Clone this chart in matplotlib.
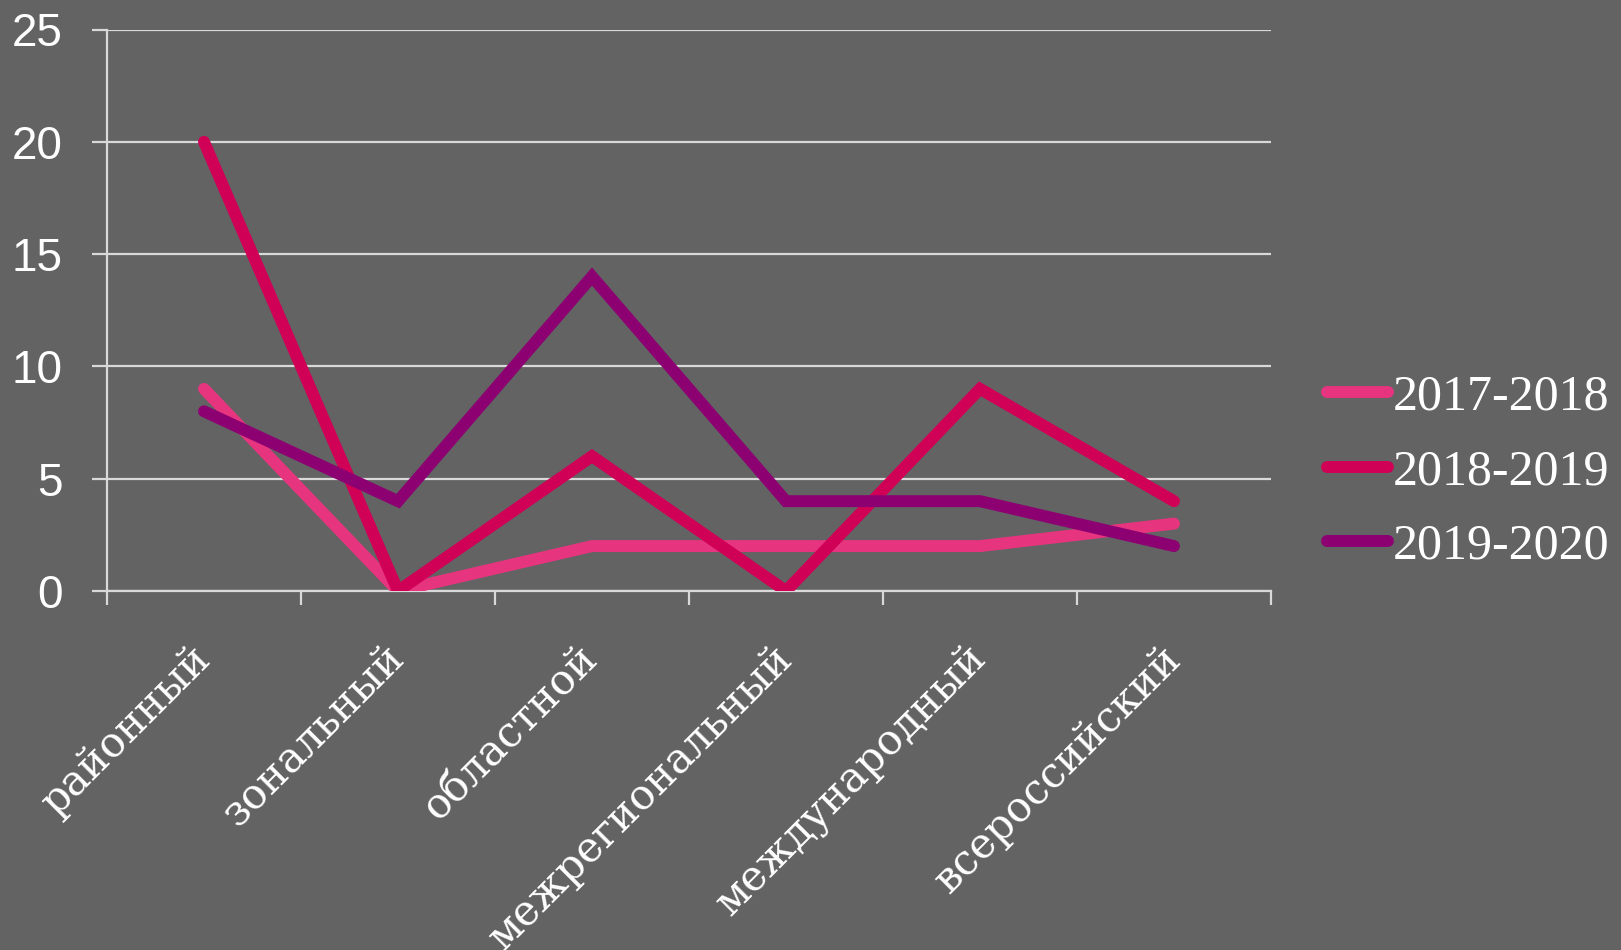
import matplotlib
matplotlib.use("Agg")
import matplotlib.pyplot as plt
import numpy as np

categories = ["районный", "зональный", "областной", "межрегиональный", "международный", "всероссийский"]
series_names = ["2017-2018", "2018-2019", "2019-2020"]
s2017 = [9, 0, 2, 2, 2, 3]
s2018 = [20, 0, 6, 0, 9, 4]
s2019 = [8, 4, 14, 4, 4, 2]
yticks = [0, 5, 10, 15, 20, 25]

colors = ["#E7347F", "#D10057", "#8C0072"]
bg = "#636363"
gridc = "#D9D9D9"

W, H = 1621, 950
fig = plt.figure(figsize=(W / 100, H / 100), dpi=100, facecolor=bg)
left, right, top, bottom = 107, 1271, 29.5, 591
ax = fig.add_axes([left / W, 1 - bottom / H, (right - left) / W, (bottom - top) / H])
ax.set_facecolor(bg)

x = np.arange(len(categories))
for vals, name, c in zip([s2017, s2018, s2019], series_names, colors):
    ax.plot(x, vals, color=c, lw=8.6, solid_capstyle="round", solid_joinstyle="miter", label=name, zorder=3)

ax.set_xlim(-0.5, len(categories) - 0.5)
ax.set_ylim(0, 25)
ax.set_yticks(yticks)
ax.set_yticklabels([str(v) for v in yticks], fontsize=33, color="white", family="Liberation Sans")
ax.yaxis.grid(True, color=gridc, lw=1.6, zorder=1)
ax.set_axisbelow(True)

for s in ["top", "right"]:
    ax.spines[s].set_visible(False)
for s in ["left", "bottom"]:
    ax.spines[s].set_color(gridc)
    ax.spines[s].set_linewidth(1.6)

ax.tick_params(axis="y", length=11, width=1.6, color=gridc, pad=21, direction="out")
ax.set_xticks(x)
ax.set_xticklabels(categories, fontsize=30, color="white", family="DejaVu Serif",
                   rotation=45, ha="right", va="center", rotation_mode="anchor")
ax.set_xticks(np.arange(-0.5, len(categories)), minor=True)
ax.tick_params(axis="x", which="major", length=0, pad=44)
ax.tick_params(axis="x", which="minor", length=10, width=1.6, color=gridc, direction="out")

leg = fig.legend(loc="center left", bbox_to_anchor=(1327 / W, 1 - 472 / H), frameon=False,
                 prop={"family": "Liberation Serif", "size": 36}, handlelength=1.22,
                 handletextpad=0.1, labelspacing=0.56, borderpad=0, borderaxespad=0)
for t in leg.get_texts():
    t.set_color("white")
for l in leg.get_lines():
    l.set_linewidth(8.6)
    l.set_solid_capstyle("round")

fig.savefig("out.png", dpi=100, facecolor=bg)
